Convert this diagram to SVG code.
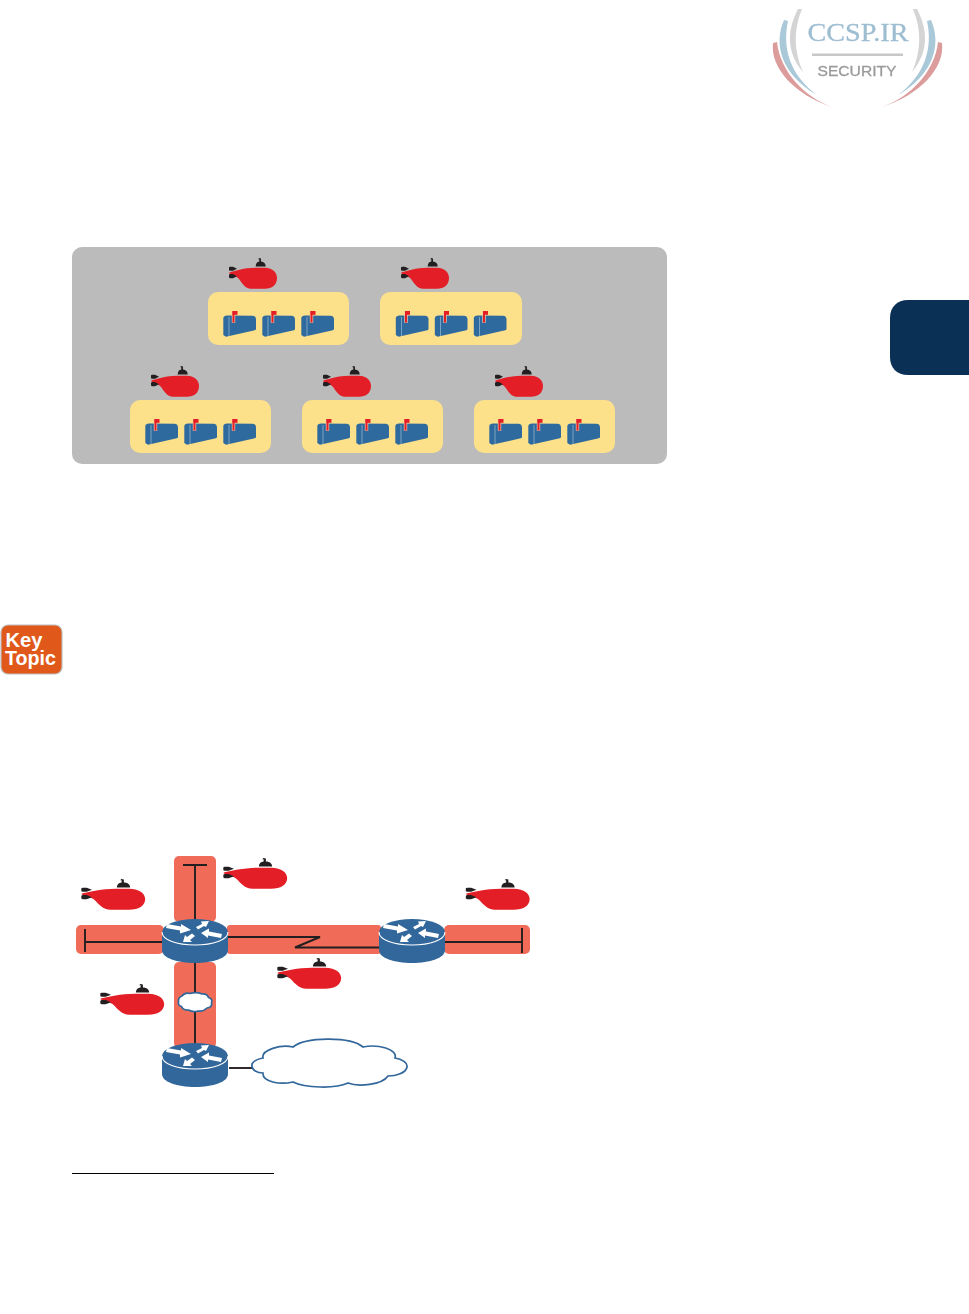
<svg xmlns="http://www.w3.org/2000/svg" width="969" height="1314" viewBox="0 0 969 1314">
<style>
.yb{fill:#fde18a}
.band{fill:#f06c59}
.ln{fill:none;stroke:#231f20;stroke-width:1.9}
.cl{fill:#fff;stroke:#32679b;stroke-width:1.7}
text{font-family:"Liberation Sans",Arial,sans-serif}
</style>
<defs>
<filter id="soft" x="-5%" y="-5%" width="110%" height="110%"><feGaussianBlur stdDeviation="0.5"/></filter>
<g id="sub">
<path d="M1.300,14.400 C8,12.500 16,9.900 27,9.700 L37,9.700 C45,9.700 49,15 49,20 C49,27 44,30.700 37,30.700 L23,30.700 C17,30.700 14,25 11,21 C9,18.500 4,16.500 1.300,15.600Z" fill="#e41e26"/>
<path d="M1,9.200 L2,8.700 L5,8.700 L9,10.700 L5,12.700 L2,12.700 L1,12.200 Z M1,16.800 L2,16 L5,16 L9,18.200 L5,20.300 L2,20.300 L1,19.600Z" fill="#231f20"/>
<path d="M27.700,8.600 C27.700,5.800 29,3.800 31.300,3.500 L31.300,1.300 L30.300,1.300 L31,0 L33,0.500 L33,3.500 C36,3.600 37.700,5.600 37.700,8.600Z" fill="#231f20"/>
</g>
<g id="mail">
<path d="M0.300,7.500 C0.300,5.500 2,4.600 4,4.600 L29.500,4.700 C31.800,4.800 33,6.300 33,8.300 L33,17.800 C33,18.600 32.500,19 31.800,19.200 L3,25.800 L0.300,24Z" fill="#2f6a9f"/>
<path d="M6,6 L6,25" stroke="#8fb3cc" stroke-width="0.800" fill="none"/>
<rect x="8.800" y="0.300" width="3.400" height="11.500" fill="#e8c9a8"/>
<rect x="9.500" y="0" width="2" height="11.500" fill="#e41e26"/>
<rect x="9.500" y="0" width="5" height="3.800" fill="#e41e26"/>
</g>
<g id="router">
<path d="M-33,0 L-33,18 C-33,26 -18,31 0,31 C18,31 33,26 33,18 L33,0Z" fill="#32679b"/>
<ellipse cx="0" cy="0" rx="33" ry="13" fill="#32679b"/>
<path d="M-33,0 C-33,8 -18,13 0,13 C18,13 33,8 33,0" fill="none" stroke="#fff" stroke-width="1.100"/>
<path d="M-28,-8 L-14,-5.500 L-14,-8 L-4,-2 L-15,1.500 L-15,-1.500 L-29,-4Z M1,-5 L7,-8 L6,-10.500 L14,-11 L11,-5 L9,-6 L3,-2.500Z M6,1 L14,-3.500 L14,-0.500 L27,2 L26,6 L13,3.500 L13,6Z M-12,10 L-10,3 L-8,5 L-3,1.500 L0,4 L-5,8 L-3,10Z" fill="#fff"/>
</g>
</defs>

<g id="logo" filter="url(#soft)">
<path d="M798,9 C787,30 786,52 803,72 C794,52 793,30 802,9Z" fill="#d4d4d4"/>
<path d="M917,9 C928,30 929,52 912,72 C921,52 922,30 913,9Z" fill="#d4d4d4"/>
<path d="M784,20 C773,45 782,75 817,95 C790,75 782,48 788,21Z" fill="#a9c8d8"/>
<path d="M931,20 C942,45 933,75 898,95 C925,75 933,48 927,21Z" fill="#a9c8d8"/>
<path d="M773,43 C770,68 795,95 832,107 C806,98 780,72 777,42Z" fill="#dc9c9c"/>
<path d="M942,43 C945,68 920,95 882,107 C909,98 935,72 938,42Z" fill="#dc9c9c"/>
<text x="858" y="41" font-size="26" style="font-family:'Liberation Serif',serif" fill="#9dbdd1" stroke="#9dbdd1" stroke-width="0.300" text-anchor="middle" textLength="101" lengthAdjust="spacingAndGlyphs">CCSP.IR</text>
<rect x="812" y="53.500" width="91" height="2.500" fill="#c8c8c8"/>
<text x="857" y="76" font-size="14.500" fill="#9a9a9a" stroke="#9a9a9a" stroke-width="0.300" text-anchor="middle" textLength="79" lengthAdjust="spacingAndGlyphs">SECURITY</text>
</g>

<path id="chapter-tab" d="M969,300 L908,300 C897,300 890,307 890,318 L890,357 C890,368 897,375 908,375 L969,375Z" fill="#0a3055"/>

<g id="hierarchy">
<rect x="72" y="247" width="595" height="217" rx="10" fill="#bbbbbb"/>
<g id="group1"><rect class="yb" x="208" y="292" width="141" height="53" rx="10"/><use href="#sub" x="228" y="258"/><use href="#mail" x="223" y="311"/><use href="#mail" x="262" y="311"/><use href="#mail" x="301" y="311"/></g>
<g id="group2"><rect class="yb" x="380" y="292" width="142" height="53" rx="10"/><use href="#sub" x="400" y="258"/><use href="#mail" x="395.500" y="311"/><use href="#mail" x="434.500" y="311"/><use href="#mail" x="473.500" y="311"/></g>
<g id="group3"><rect class="yb" x="130" y="400" width="141" height="53" rx="10"/><use href="#sub" x="150" y="366"/><use href="#mail" x="145" y="419"/><use href="#mail" x="184" y="419"/><use href="#mail" x="223" y="419"/></g>
<g id="group4"><rect class="yb" x="302" y="400" width="141" height="53" rx="10"/><use href="#sub" x="322" y="366"/><use href="#mail" x="317" y="419"/><use href="#mail" x="356" y="419"/><use href="#mail" x="395" y="419"/></g>
<g id="group5"><rect class="yb" x="474" y="400" width="141" height="53" rx="10"/><use href="#sub" x="494" y="366"/><use href="#mail" x="489" y="419"/><use href="#mail" x="528" y="419"/><use href="#mail" x="567" y="419"/></g>
</g>

<g id="key-topic">
<rect x="1" y="625" width="61" height="49" rx="7" fill="#e0591a" stroke="#bdbdbd" stroke-width="1.200"/>
<text x="5.500" y="647" font-size="20" font-weight="700" fill="#fff" textLength="37" lengthAdjust="spacingAndGlyphs">Key</text>
<text x="5" y="665" font-size="20" font-weight="700" fill="#fff" textLength="51" lengthAdjust="spacingAndGlyphs">Topic</text>
</g>

<g id="bands">
<rect class="band" x="174" y="856" width="42" height="66" rx="5"/>
<rect class="band" x="76" y="925" width="88" height="29" rx="5"/>
<rect class="band" x="227" y="925" width="154" height="29" rx="3"/>
<rect class="band" x="444" y="925" width="86" height="29" rx="5"/>
<rect class="band" x="174" y="962" width="42" height="86" rx="5"/>
</g>

<g id="connectors">
<path class="ln" d="M183,865 H207 M195,865 V920"/>
<path class="ln" d="M85,929 V952 M85,942 H163"/>
<path class="ln" d="M228,937 H320 L295,947.500 H379"/>
<path class="ln" d="M445,942 H522 M522,928 V953"/>
<path class="ln" d="M195,962 V1044"/>
<path class="ln" d="M229,1068 H253"/>
</g>

<g id="router1"><use href="#router" x="195" y="932"/></g>
<g id="router2"><use href="#router" x="412" y="932"/></g>
<g id="router3"><use href="#router" x="195" y="1056"/></g>

<g id="small-cloud"><path class="cl" d="M178.500,1002.500 Q178,997 182,996 Q185,992 190,993.500 Q196,991.500 202,994 Q207,993.500 208.500,997.500 Q213,999 211.500,1002.500 Q212.500,1007.500 207,1008 Q203,1012 198,1011 Q193,1012.500 188.500,1010 Q183,1010.500 181.500,1006.500 Q178,1005.500 178.500,1002.500Z"/></g>
<g id="big-cloud"><path class="cl" d="M252,1066 C251,1062 257,1059 263,1058 C261,1050 281,1044 293,1047 C305,1037 350,1036 363,1047 C378,1044 398,1049 395,1058 C402,1059 408,1063 407,1067 C406,1073 396,1076 388,1076 C382,1085 358,1087 348,1083 C335,1089 305,1088 293,1082 C280,1085 262,1082 263,1073 C257,1073 252,1070 252,1066Z"/></g>

<use id="sub-a" href="#sub" transform="translate(80,879) scale(1.330,1)"/>
<use id="sub-b" href="#sub" transform="translate(222,858) scale(1.330,1)"/>
<use id="sub-c" href="#sub" transform="translate(464.500,879) scale(1.330,1)"/>
<use id="sub-d" href="#sub" transform="translate(276,958) scale(1.330,1)"/>
<use id="sub-e" href="#sub" transform="translate(99,984) scale(1.330,1)"/>

<rect id="footnote-rule" x="72" y="1173" width="202" height="1" fill="#000"/>
</svg>
